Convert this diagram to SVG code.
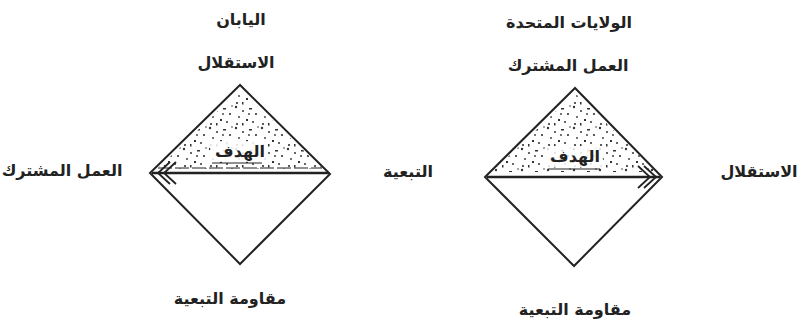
<svg xmlns="http://www.w3.org/2000/svg" width="802" height="328" viewBox="0 0 802 328">
<style>
.lbl{font-family:"DejaVu Sans",sans-serif;font-size:16px;font-weight:bold;fill:#222;text-anchor:middle;direction:rtl}
.edge{fill:none;stroke:#222;stroke-width:2;stroke-linejoin:miter}
.axis{fill:none;stroke:#222;stroke-width:2.5}
.chev{fill:none;stroke:#222;stroke-width:1.8}
.stip{fill:url(#dots)}
</style>
<defs>
<pattern id="dots" width="26" height="21" patternUnits="userSpaceOnUse">
<circle cx="2" cy="2" r="1.2" fill="#333"/>
<circle cx="9" cy="6" r="1" fill="#333"/>
<rect x="15" y="3" width="3" height="1.5" fill="#333"/>
<circle cx="22" cy="9" r="1.1" fill="#333"/>
<circle cx="5" cy="12" r="0.9" fill="#333"/>
<rect x="12" y="14" width="2" height="2" fill="#333"/>
<circle cx="19" cy="17" r="1" fill="#333"/>
<circle cx="3" cy="19" r="1.1" fill="#333"/>
<rect x="8" y="18" width="1.5" height="2.5" fill="#333"/>
<circle cx="24" cy="1" r="0.8" fill="#333"/>
<circle cx="15" cy="9" r="0.9" fill="#333"/>
</pattern>
</defs>
<rect width="802" height="328" fill="#fff"/>
<g id="japan-title"><text class="lbl" x="241" y="25">اليابان</text></g>
<g id="japan-top"><text class="lbl" x="236" y="68">الاستقلال</text></g>
<g id="japan-left"><text class="lbl" x="62" y="176">العمل المشترك</text></g>
<g id="middle"><text class="lbl" x="408" y="177">التبعية</text></g>
<g id="japan-bottom"><text class="lbl" x="230" y="304">مقاومة التبعية</text></g>
<g id="japan-diamond">
<polygon class="stip" points="240,90 157,169 323,169"/>
<polygon class="edge" points="240,85 150,173 240,264 330,174"/>
<line x1="158" y1="168" x2="322" y2="168" stroke="#222" stroke-width="1" stroke-dasharray="14,3"/>
<rect x="210" y="141" width="58" height="21" fill="#fff" opacity="0.85"/>
<text class="lbl" x="240" y="157">الهدف</text>
<line x1="212" y1="163" x2="262" y2="163" stroke="#222" stroke-width="1"/>
</g>
<g id="usa-title"><text class="lbl" x="569" y="28">الولايات المتحدة</text></g>
<g id="usa-top"><text class="lbl" x="568" y="71">العمل المشترك</text></g>
<g id="usa-right"><text class="lbl" x="759" y="177">الاستقلال</text></g>
<g id="usa-bottom"><text class="lbl" x="575" y="315">مقاومة التبعية</text></g>
<g id="usa-diamond">
<polygon class="stip" points="575,93 492,172 657,172"/>
<polygon class="edge" points="575,88 485,177 574,266 662,177"/>
<rect x="545" y="146" width="58" height="21" fill="#fff" opacity="0.85"/>
<text class="lbl" x="575" y="162">الهدف</text>
<line x1="548" y1="169" x2="600" y2="169" stroke="#222" stroke-width="1"/>
</g>
<g id="connectors">
<line class="axis" x1="152" y1="173" x2="329" y2="173"/>
<polyline class="chev" points="170,162 158,173 170,184"/>
<polyline class="chev" points="176,162 164,173 176,184"/>
<line class="axis" x1="487" y1="177" x2="660" y2="177"/>
<polyline class="chev" points="644,166 656,177 644,188"/>
<polyline class="chev" points="638,166 650,177 638,188"/>
</g>
</svg>
